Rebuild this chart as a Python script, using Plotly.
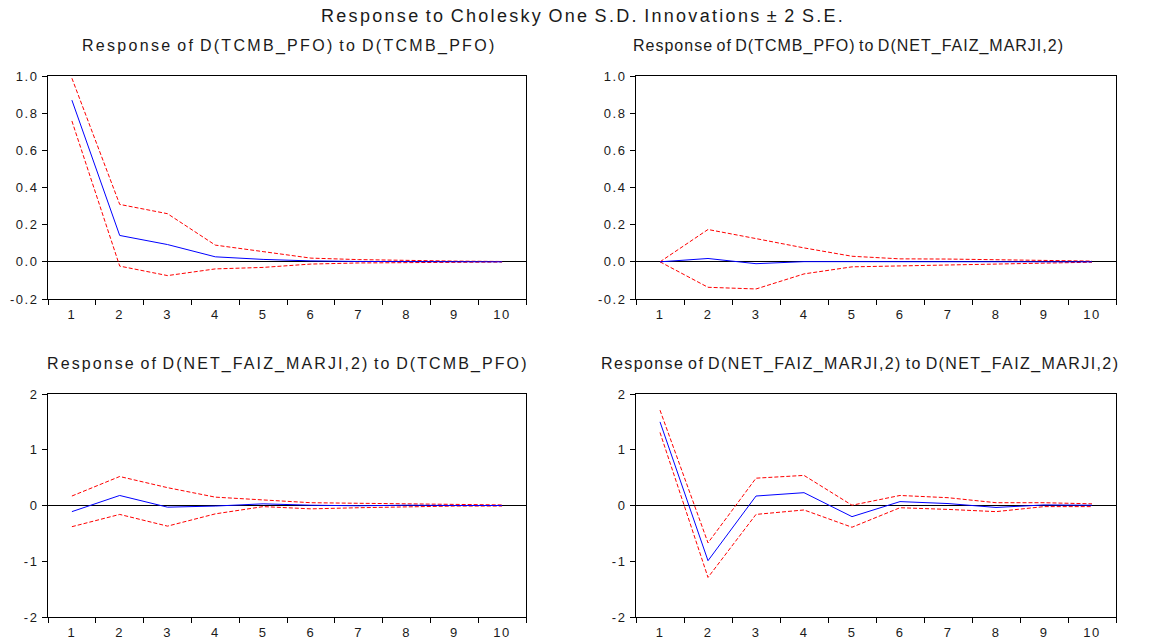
import plotly.graph_objects as go

periods = [1, 2, 3, 4, 5, 6, 7, 8, 9, 10]

# Panel 1: Response of D(TCMB_PFO) to D(TCMB_PFO)
p1_resp = [0.87, 0.142, 0.093, 0.027, 0.013, 0.005, 0.002, 0.001, 0.0, 0.0]
p1_up = [0.988, 0.309, 0.259, 0.09, 0.055, 0.02, 0.012, 0.007, 0.004, 0.002]
p1_lo = [0.758, -0.023, -0.074, -0.038, -0.03, -0.012, -0.006, -0.003, -0.002, -0.001]

# Panel 2: Response of D(TCMB_PFO) to D(NET_FAIZ_MARJI,2)
p2_resp = [0.0, 0.018, -0.01, 0.001, 0.001, 0.0, 0.0, 0.0, 0.0, 0.0]
p2_up = [0.0, 0.174, 0.125, 0.075, 0.03, 0.016, 0.015, 0.01, 0.005, 0.004]
p2_lo = [0.0, -0.137, -0.146, -0.065, -0.027, -0.022, -0.015, -0.008, -0.004, -0.002]

# Panel 3: Response of D(NET_FAIZ_MARJI,2) to D(TCMB_PFO)
p3_resp = [-0.11, 0.18, -0.03, -0.01, 0.03, 0.005, -0.005, 0.005, 0.0, 0.0]
p3_up = [0.17, 0.52, 0.32, 0.15, 0.1, 0.05, 0.04, 0.03, 0.01, 0.01]
p3_lo = [-0.38, -0.16, -0.37, -0.15, -0.02, -0.06, -0.04, -0.02, -0.01, -0.01]

# Panel 4: Response of D(NET_FAIZ_MARJI,2) to D(NET_FAIZ_MARJI,2)
p4_resp = [1.50, -0.99, 0.17, 0.23, -0.2, 0.07, 0.035, -0.035, 0.01, 0.005]
p4_up = [1.71, -0.67, 0.49, 0.54, 0.005, 0.18, 0.14, 0.05, 0.05, 0.03]
p4_lo = [1.31, -1.29, -0.16, -0.08, -0.39, -0.04, -0.07, -0.11, -0.02, -0.02]

main_title = "Response to Cholesky One S.D. Innovations \u00b1 2 S.E."
panel_titles = [
    "Response of D(TCMB_PFO) to D(TCMB_PFO)",
    "Response of D(TCMB_PFO) to D(NET_FAIZ_MARJI,2)",
    "Response of D(NET_FAIZ_MARJI,2) to D(TCMB_PFO)",
    "Response of D(NET_FAIZ_MARJI,2) to D(NET_FAIZ_MARJI,2)",
]
y_ticks_top = [-0.2, 0.0, 0.2, 0.4, 0.6, 0.8, 1.0]
y_ticks_top_text = ["-0.2", "0.0", "0.2", "0.4", "0.6", "0.8", "1.0"]
y_ticks_bot = [-2, -1, 0, 1, 2]
y_ticks_bot_text = ["-2", "-1", "0", "1", "2"]

W, H = 1153, 644
FONT = "Liberation Sans, Arial, sans-serif"
TXT = "#1a1a1a"


def spaced(s, ls, ws=0):
    return f'<span style="letter-spacing:{ls}px;word-spacing:{ws}px">{s}</span>'


panels = [
    (p1_resp, p1_up, p1_lo, (48, 526), (76, 299), [-0.2, 1.0], y_ticks_top, y_ticks_top_text),
    (p2_resp, p2_up, p2_lo, (636, 1116), (76, 299), [-0.2, 1.0], y_ticks_top, y_ticks_top_text),
    (p3_resp, p3_up, p3_lo, (48, 526), (394, 617), [-2, 2], y_ticks_bot, y_ticks_bot_text),
    (p4_resp, p4_up, p4_lo, (636, 1116), (394, 617), [-2, 2], y_ticks_bot, y_ticks_bot_text),
]

fig = go.Figure()
layout = dict(
    template="none",
    width=W, height=H, margin=dict(l=0, r=0, t=0, b=0, pad=0),
    paper_bgcolor="white", plot_bgcolor="white", showlegend=False,
    font=dict(family=FONT, color=TXT, size=12),
)
annotations = [dict(text=spaced(main_title, 2.3, -2), x=583 / W, y=1 - 16 / H, xref="paper", yref="paper",
                    showarrow=False, font=dict(size=18, family=FONT, color=TXT),
                    xanchor="center", yanchor="middle")]
title_pos = [(289, 46), (848, 46), (288, 364), (860, 364)]
title_ls = [2.3, 1.0, 2.1, 1.4]

for i, (resp, up, lo, (x0, x1), (y0, y1), yr, yt, ytt) in enumerate(panels):
    n = i + 1
    xa = "x" if n == 1 else f"x{n}"
    ya = "y" if n == 1 else f"y{n}"
    for series, color, dash in [(up, "#ff0000", "4px,2px"), (lo, "#ff0000", "4px,2px"), (resp, "#0000ff", "solid")]:
        fig.add_trace(go.Scatter(x=periods, y=series, mode="lines", xaxis=xa, yaxis=ya,
                                 line=dict(color=color, width=1, dash=dash),
                                 hoverinfo="skip"))
    xkey = "xaxis" if n == 1 else f"xaxis{n}"
    ykey = "yaxis" if n == 1 else f"yaxis{n}"
    layout[xkey] = dict(
        domain=[x0 / W, x1 / W], anchor=ya, range=[0.5, 10.5], automargin=False,
        tickvals=periods, ticktext=[spaced(str(p), 1.5) for p in periods], ticks="",
        minor=dict(tickvals=[p + 0.5 for p in [0] + periods], ticks="outside", ticklen=5,
                   tickcolor="black", tickwidth=1, showgrid=False),
        showline=True, mirror=True, linecolor="black", linewidth=1,
        showgrid=False, zeroline=False, fixedrange=True,
        tickfont=dict(size=13, family=FONT, color=TXT), ticklabelstandoff=3,
    )
    layout[ykey] = dict(
        domain=[1 - y1 / H, 1 - y0 / H], anchor=xa, range=yr, automargin=False,
        tickvals=yt, ticktext=[spaced(t, 1.5) for t in ytt], ticks="outside", ticklen=5,
        tickcolor="black", ticklabelstandoff=1,
        showline=True, mirror=True, linecolor="black", linewidth=1,
        showgrid=False, zeroline=True, zerolinecolor="black", zerolinewidth=1,
        fixedrange=True, tickfont=dict(size=13, family=FONT, color=TXT),
    )
    tx, ty = title_pos[i]
    annotations.append(dict(text=spaced(panel_titles[i], title_ls[i], -2), x=tx / W, y=1 - ty / H,
                            xref="paper", yref="paper", showarrow=False,
                            font=dict(size=16, family=FONT, color=TXT),
                            xanchor="center", yanchor="middle"))

layout["annotations"] = annotations
fig.update_layout(**layout)
fig.write_html("out.html")
